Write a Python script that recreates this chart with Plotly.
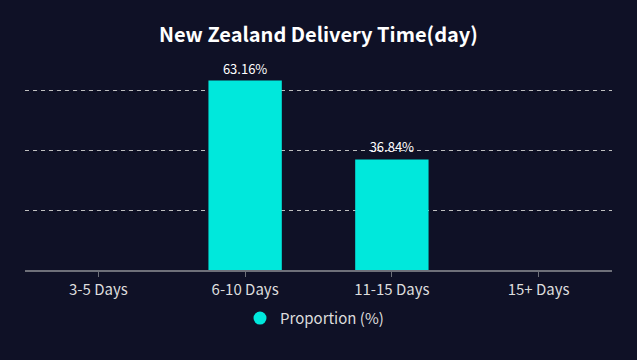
import plotly.graph_objects as go

categories = ["3-5 Days", "6-10 Days", "11-15 Days", "15+ Days"]
values = [0, 63.16, 36.84, 0]
labels = ["", "63.16%", "36.84%", ""]
series_name = "Proportion (%)"
title = "New Zealand Delivery Time(day)"

bar_color = "#00E8DC"
bg = "#0F1126"
font_cjk = "Noto Sans CJK SC, Noto Sans, sans-serif"

fig = go.Figure()
fig.add_trace(go.Bar(
    x=categories, y=values, text=labels, textposition="outside",
    textfont=dict(color="#FFFFFF", size=13, family=font_cjk),
    marker=dict(color=bar_color, line=dict(width=0)),
    width=0.5, cliponaxis=False, showlegend=False, name=series_name,
    hoverinfo="x+y",
))
# legend entry with a circle marker
fig.add_trace(go.Scatter(
    x=[None], y=[None], mode="markers", name=series_name,
    marker=dict(symbol="circle", size=13, color=bar_color), showlegend=True,
))

fig.update_layout(
    width=637, height=360,
    paper_bgcolor=bg, plot_bgcolor=bg,
    margin=dict(l=25, r=25, t=60, b=90),
    title=dict(text="<b>" + title + "</b>", x=0.5, xanchor="center",
               y=1 - 35 / 360, yanchor="middle", yref="container",
               font=dict(size=20, color="#FFFFFF", family=font_cjk)),
    xaxis=dict(
        type="category", showgrid=False, showline=True, linecolor="#6E7079",
        linewidth=2, ticks="outside", tickcolor="#6E7079", ticklen=5,
        tickfont=dict(size=15, color="#DDDDDD", family=font_cjk),
        fixedrange=True,
    ),
    yaxis=dict(
        range=[0, 70], dtick=20, showticklabels=False, showgrid=True,
        gridcolor="#BFBFBF", griddash="4px,4px", gridwidth=1, zeroline=False,
        showline=False, fixedrange=True,
    ),
    legend=dict(orientation="h", x=0.5 - 4 / 587, xanchor="center", y=-0.23,
                yanchor="middle", font=dict(size=15, color="#DDDDDD", family=font_cjk),
                bgcolor="rgba(0,0,0,0)", itemwidth=30),
    bargap=0.5,
)

fig.write_html("out.html", config={"displayModeBar": False},
               post_script="document.body.style.margin='0';document.body.style.background='%s';" % bg)
